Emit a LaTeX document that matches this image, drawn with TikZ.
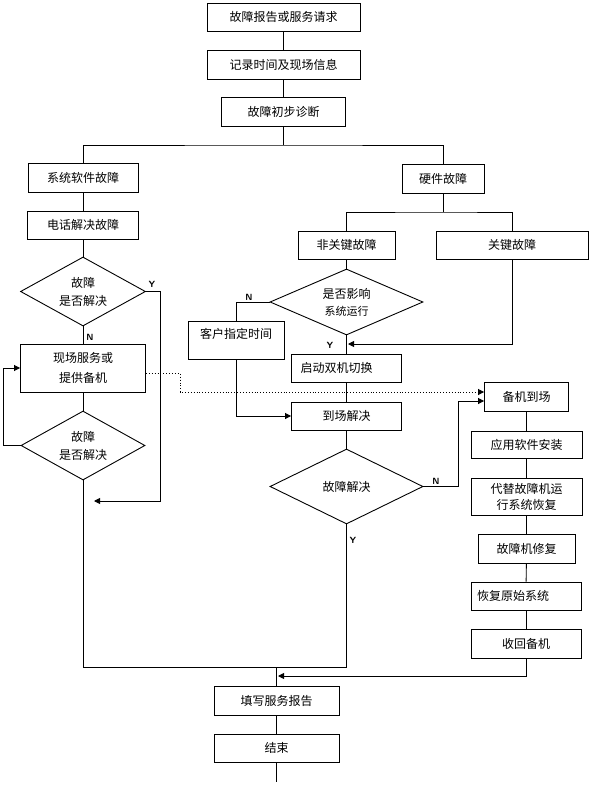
\documentclass[tikz,border=0pt]{standalone}
\usepackage{fontspec}
\newfontfamily\cjk{Noto Sans CJK SC}
\usetikzlibrary{shapes.geometric, arrows.meta}

\begin{document}
\begin{tikzpicture}[
    x=1pt, y=-1pt,
    every node/.style={font=\cjk\fontsize{12}{14}\selectfont},
    box/.style={draw, line width=0.9pt, inner sep=2pt, align=center},
    dia/.style={draw, diamond, shape aspect=2, line width=0.9pt, inner sep=0pt,
                align=center},
    yn/.style={font=\sffamily\bfseries\fontsize{9}{9}\selectfont, inner sep=0pt},
    line/.style={line width=0.9pt},
    arr/.style={line width=0.9pt, -{Triangle[length=6pt,width=6pt]}}
]
    \useasboundingbox (0,0) rectangle (591,802);

    % top
    \node[box, minimum width=153pt, minimum height=28pt] (b1) at (283.5,17)  {故障报告或服务请求};
    \node[box, minimum width=153pt, minimum height=29pt] (b2) at (283.5,64.5) {记录时间及现场信息};
    \node[box, minimum width=124pt, minimum height=29pt] (b3) at (283.5,112) {故障初步诊断};

    % software side
    \node[box, minimum width=110pt, minimum height=29pt] (s1) at (83,177.5) {系统软件故障};
    \node[box, minimum width=111pt, minimum height=28pt] (s2) at (83,225)   {电话解决故障};
    \node[dia, minimum width=125pt, minimum height=69pt] (d1) at (83,291.5) {故障\\[4pt]是否解决};
    \node[box, minimum width=125pt, minimum height=48pt] (s3) at (83,368)   {现场服务或\\[6pt]提供备机};
    \node[dia, minimum width=124pt, minimum height=69pt] (d2) at (83,445.5) {故障\\[4pt]是否解决};

    % hardware side
    \node[box, minimum width=82pt,  minimum height=29pt] (h1) at (443,178.5)  {硬件故障};
    \node[box, minimum width=97pt,  minimum height=28pt] (h2) at (346.5,245) {非关键故障};
    \node[box, minimum width=152pt, minimum height=28pt] (h3) at (512,245)   {关键故障};
    \node[dia, minimum width=153pt, minimum height=66pt] (d3) at (346.5,302) {是否影响\\[3pt]{\fontsize{11}{13}\selectfont 系统运行}};
    \node[box, minimum width=96pt,  minimum height=38pt] (c1) at (236,340)   {客户指定时间\\~};
    \node[box, text width=92pt, align=left, inner xsep=9pt, minimum height=28pt] (h4) at (346.5,368) {启动双机切换};
    \node[box, minimum width=110pt, minimum height=28pt] (h5) at (346.5,416) {到场解决};
    \node[dia, minimum width=153pt, minimum height=75pt] (d4) at (346.5,486.5) {故障解决};

    % backup machine
    \node[box, minimum width=84pt,  minimum height=29pt] (r1) at (526.5,396.5) {备机到场};
    \node[box, minimum width=111pt, minimum height=27pt] (r2) at (526.5,444.5) {应用软件安装};
    \node[box, minimum width=111pt, minimum height=37pt, font=\cjk\fontsize{12}{16}\selectfont] (r3) at (526.5,496.5) {代替故障机运\\行系统恢复};
    \node[box, minimum width=97pt,  minimum height=29pt] (r4) at (526.5,548.5) {故障机修复};
    \node[box, text width=98pt, align=left, inner xsep=6pt, minimum height=28pt] (r5) at (526,596) {恢复原始系统};
    \node[box, minimum width=110pt, minimum height=29pt] (r6) at (526,643.5) {收回备机};

    % end
    \node[box, minimum width=125pt, minimum height=29pt] (e1) at (276.5,700.5) {填写服务报告};
    \node[box, minimum width=125pt, minimum height=28pt] (e2) at (276.5,748)   {结束};

    % Y / N marks
    \node[yn] (y1) at (152,284) {Y};
    \node[yn] (n1) at (90,337)  {N};
    \node[yn] (n3) at (249,297) {N};
    \node[yn] (y3) at (330,345) {Y};
    \node[yn] (n4) at (436,481) {N};
    \node[yn] (y4) at (353,540) {Y};

    \coordinate (br)   at (283.5,145);
    \coordinate (hb)   at (443,212);
    \coordinate (yend) at (94,501);
    \coordinate (k1)   at (348,344);
    \coordinate (jn)   at (346.5,667);
    \coordinate (jm)   at (276.5,667);
    \coordinate (jr)   at (278,676);
    \coordinate (fin)  at (276.5,782);

    \foreach \a/\b in {b1/b2, b2/b3, s1/s2, s2/d1, d1/s3, s3/d2, h2/d3, d3/h4,
                       h4/h5, h5/d4, r1/r2, r2/r3, r3/r4, r4/r5, r5/r6, e1/e2}
        \draw[line] (\a) -- (\b);

    \draw[line] (b3.south) -- (br);
    \draw[line] (s1.north) |- (br) -| (h1.north);
    \draw[line] (h1.south) -- (hb);
    \draw[line] (h2.north) |- (hb) -| (h3.north);

    \draw[arr] (d1.east) -| (160,501) -- (yend);
    \draw[arr] (d2.west) -- ++(-17,0) |- (s3.west);
    \draw[line] (d2.south) |- (jn) -- (d4.south);
    \draw[line] (jm) -- (e1.north);
    \draw[line] (e2.south) -- (fin);

    \draw[line] (d3.west) -| (c1.north);
    \draw[arr] (h3.south) |- (k1);
    \draw[arr] (c1.south) |- (h5.west);
    \draw[arr, dotted] ([yshift=-5pt]s3.east) -- ++(34,0) |- ([yshift=4.5pt]r1.west);
    \draw[arr] (d4.east) -- ++(35,0) |- ([yshift=-4.5pt]r1.west);
    \draw[arr] (r6.south) |- (jr);
\end{tikzpicture}
\end{document}
